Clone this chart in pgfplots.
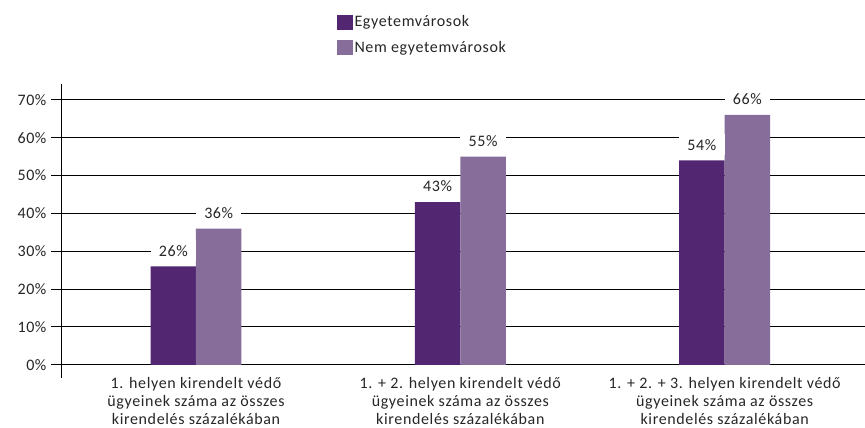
\documentclass[border=0pt]{standalone}
\usepackage{pgfplots}
\pgfplotsset{compat=1.18}
\usepackage{fontspec}
\setmainfont{Carlito}[LetterSpace=4]
\definecolor{darkp}{HTML}{522671}
\definecolor{lightp}{HTML}{866D9A}
\definecolor{txt}{HTML}{262626}
\begin{document}
\begin{tikzpicture}
\begin{axis}[
  name=ax,
  scale only axis,
  width=803pt, height=294pt,
  xmin=-0.507, xmax=2.529,
  ymin=-3.43, ymax=74.2,
  ybar=0pt, bar width=45.5pt,
  axis x line=none,
  axis y line*=left,
  y axis line style={line width=1pt, -},
  ytick={0,10,20,30,40,50,60,70},
  yticklabels={0\%,10\%,20\%,30\%,40\%,50\%,60\%,70\%},
  tick align=outside,
  major tick length=11pt,
  ytick style={line width=1pt, black},
  ymajorgrids,
  grid style={line width=1pt, black},
  yticklabel style={font=\fontsize{16}{18}\selectfont, text=txt, xshift=-1pt},
  /pgf/number format/assume math mode=true,
  xtick=\empty,
  clip=false,
  nodes near coords={\pgfmathprintnumber{\pgfplotspointmeta}\%},
  nodes near coords style={font=\fontsize{16}{18}\selectfont, text=txt, fill=white, anchor=center, yshift=15.5pt, minimum width=45.5pt, inner xsep=0pt, inner ysep=5pt},
  legend style={draw=none, fill=none, inner sep=0pt, anchor=north west, at={(axis description cs:0.3425,1.238)}, font=\fontsize{16}{18}\selectfont, text=txt, row sep=10pt, nodes={inner sep=1.5pt}},
  legend cell align=left,
  legend image code/.code={\fill[#1,draw=none] (0pt,-7.5pt) rectangle (16pt,7.5pt);},
]
\addplot[fill=darkp, draw=none] coordinates {(0,26) (1,43) (2,54)};
\addplot[fill=lightp, draw=none] coordinates {(0,36) (1,55) (2,66)};
\legend{Egyetemvárosok, Nem egyetemvárosok}
\node[align=center, anchor=north, font=\fontsize{16}{18}\selectfont, text=txt] at ([yshift=4pt]axis cs:0,-3.43) {1. helyen kirendelt védő\\ügyeinek száma az összes\\kirendelés százalékában};
\node[align=center, anchor=north, font=\fontsize{16}{18}\selectfont, text=txt] at ([yshift=4pt]axis cs:1,-3.43) {1. + 2. helyen kirendelt védő\\ügyeinek száma az összes\\kirendelés százalékában};
\node[align=center, anchor=north, font=\fontsize{16}{18}\selectfont, text=txt] at ([yshift=4pt]axis cs:2,-3.43) {1. + 2. + 3. helyen kirendelt védő\\ügyeinek száma az összes\\kirendelés százalékában};
\end{axis}
\path[use as bounding box] ([xshift=-62pt,yshift=-47pt]ax.south west) rectangle ([yshift=84pt]ax.north east);
\end{tikzpicture}
\end{document}
